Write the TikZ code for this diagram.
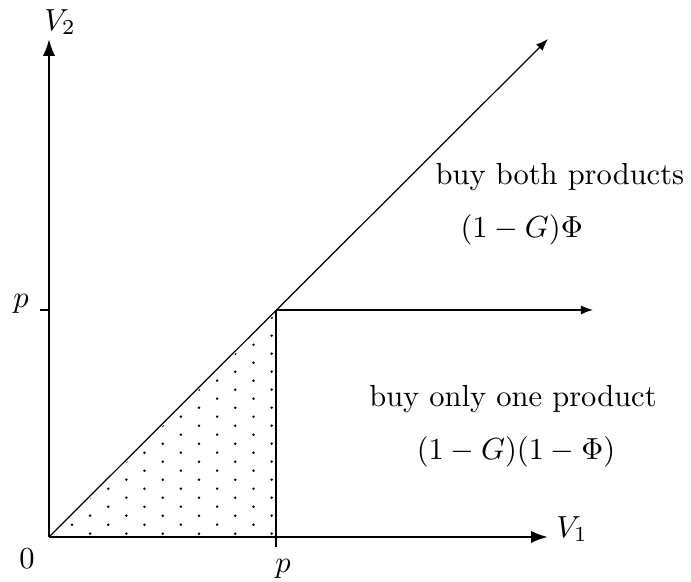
\documentclass[tikz,border=0pt]{standalone}
\usepackage{amsmath,amssymb}
\usepackage{tikz}
\usetikzlibrary{arrows.meta,positioning}

\begin{document}
\begin{tikzpicture}[
  x=0.3279pt, y=0.3279pt,
  axis/.style={line width=0.8pt, -{Latex[length=5.5pt,width=4pt]}},
  ray/.style={line width=0.4pt, -{Latex[length=4pt,width=3pt]}},
  border/.style={line width=0.4pt},
  region/.style={font=\normalsize},
  speck/.style={fill=black},
]
\useasboundingbox (-49,-45) rectangle (642,537);
\coordinate (O) at (0,0);
\coordinate (P) at (227,227);
\coordinate (Pfoot) at (227,0);
\coordinate (Pleft) at (0,227);
\coordinate (Xend) at (499,0);
\coordinate (Yend) at (0,498);
\coordinate (Dend) at (499,498);
\coordinate (Hend) at (544,227);

% dotted triangle below the diagonal
\begin{scope}
  \clip (3,0) -- (227,224) -- (227,0) -- cycle;
  \foreach \i in {0,...,6}
    \foreach \j in {0,...,12} {
      \fill[speck] (4.8+36.3*\i, 3.3+18*\j) circle[radius=0.45pt];
      \fill[speck] (22.95+36.3*\i, 12.3+18*\j) circle[radius=0.45pt];
    }
\end{scope}

\draw[axis] (O) -- (Xend);
\draw[axis] (O) -- (Yend);
\draw[ray] (O) -- (Dend);
\draw[ray] (P) -- (Hend);
\draw[border] (P) -- (Pfoot) -- ++(0,-10);
\draw[border] (Pleft) -- ++(-9,0);

\node (v1) at (523,8) {$V_1$};
\node (v2) at (11,515) {$V_2$};
\node (zero) at (-22,-22) {$0$};
\node[anchor=base] (px) at (234,-36) {$p$};
\node[anchor=base] (py) at (-28,229) {$p$};

\node[region, anchor=base west, inner sep=0pt] (both) at (386,352) {buy both products};
\node[region, anchor=base west, inner sep=0pt] (bothval) at (411,299) {$(1-G)\Phi$};
\node[region, anchor=base] (one) at (464,130) {buy only one product};
\node[region, anchor=base] (oneval) at (467,77) {$(1-G)(1-\Phi)$};
\end{tikzpicture}
\end{document}
